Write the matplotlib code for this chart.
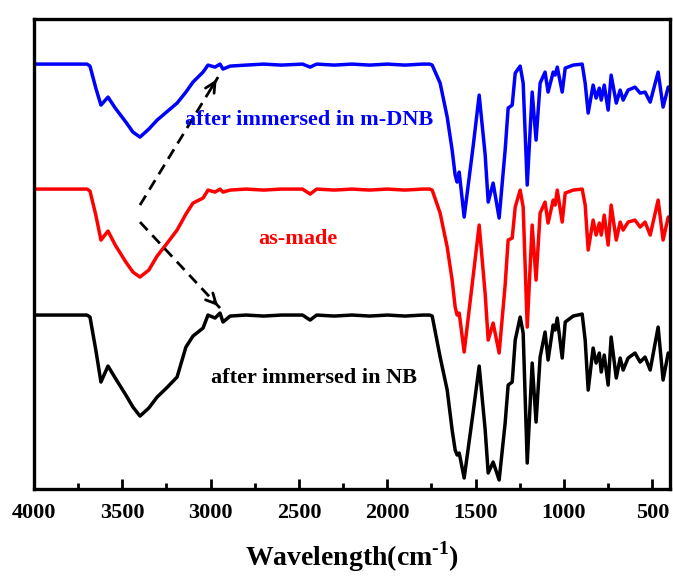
import numpy as np
import matplotlib
matplotlib.use("Agg")
import matplotlib.pyplot as plt

# ---------------------------------------------
# data (transmittance, arbitrary units)
# ---------------------------------------------
wavenumber = [
    4000, 3700, 3683, 3650, 3621, 3581, 3540, 3480, 3440, 3400,
    3350, 3303, 3250, 3190, 3140, 3100, 3043, 3015, 2975, 2947,
    2930, 2890, 2800, 2700, 2600, 2480, 2437, 2400, 2300, 2200,
    2100, 2000, 1900, 1800, 1760,
    1746, 1701, 1661, 1633, 1616, 1605, 1593, 1565, 1514, 1480,
    1446, 1429, 1401, 1367, 1333, 1316, 1293, 1276, 1248, 1231,
    1208, 1180, 1158, 1135, 1107, 1090, 1061, 1050, 1038, 1010,
    993, 948, 897, 880, 863, 835, 818, 800, 789, 772,
    750, 733, 704, 682, 665, 637, 598, 569, 541, 512,
    467, 439, 410, 400,
]

mdnb = [
    425, 425, 423, 401, 384, 392, 381, 367, 357, 352,
    360, 369, 377, 386, 397, 407, 417, 424, 422, 425,
    420, 423, 424, 425, 424, 425, 422, 425, 424, 425,
    424, 425, 424, 425, 425,
    424, 406, 372, 339, 314, 307, 317, 272, 343, 394,
    334, 287, 306, 271, 339, 381, 384, 416, 423, 406,
    304, 397, 349, 406, 417, 397, 417, 414, 422, 397,
    421, 424, 425, 406, 376, 404, 391, 401, 389, 404,
    379, 414, 386, 399, 389, 399, 402, 396, 397, 387,
    417, 382, 402, 402,
]

as_made = [
    300, 300, 298, 274, 249, 258, 244, 227, 217, 212,
    219, 233, 245, 259, 275, 286, 291, 299, 297, 300,
    297, 299, 300, 299, 300, 300, 295, 300, 299, 300,
    299, 300, 299, 300, 300,
    299, 276, 242, 209, 182, 174, 176, 137, 213, 264,
    195, 149, 166, 136, 204, 249, 251, 282, 299, 282,
    162, 264, 209, 276, 287, 266, 289, 284, 299, 267,
    296, 299, 300, 284, 239, 269, 254, 266, 254, 274,
    244, 284, 249, 267, 259, 267, 269, 262, 267, 254,
    289, 249, 272, 272,
]

nb = [
    174, 174, 172, 139, 107, 123, 111, 94, 82, 73,
    81, 92, 101, 112, 142, 153, 161, 174, 171, 176,
    167, 173, 174, 173, 174, 174, 169, 174, 173, 174,
    173, 174, 173, 174, 174,
    173, 132, 99, 59, 39, 34, 36, 11, 77, 123,
    59, 16, 27, 9, 66, 104, 107, 149, 172, 156,
    26, 126, 67, 132, 157, 129, 164, 159, 171, 131,
    167, 173, 175, 149, 99, 141, 126, 136, 117, 134,
    104, 152, 111, 131, 119, 131, 136, 127, 132, 119,
    162, 109, 136, 136,
]

# ---------------------------------------------
# style
# ---------------------------------------------
plt.rcParams["font.family"] = ["Liberation Serif", "DejaVu Serif"]
plt.rcParams["font.weight"] = "bold"
plt.rcParams["mathtext.fontset"] = "custom"
plt.rcParams["mathtext.rm"] = "Liberation Serif:bold"
plt.rcParams["mathtext.bf"] = "Liberation Serif:bold"

fig = plt.figure(figsize=(6.73, 5.79), dpi=100)
ax = fig.add_axes([0.0505, 0.1554, 0.945, 0.8116])

lw = 2.5
for y, c in [(mdnb, "#0000ff"), (as_made, "#ff0000"), (nb, "black")]:
    ax.plot(wavenumber, y, color=c, lw=lw,
            solid_joinstyle="round", solid_capstyle="round")

# labels on the curves
ax.text(2443, 369, "after immersed in m-DNB", color="#0000ff",
        fontsize=16, fontweight="bold", ha="center", va="center")
ax.text(2505, 250, "as-made", color="#ff0000",
        fontsize=16, fontweight="bold", ha="center", va="center")
ax.text(2414, 111, "after immersed in NB", color="black",
        fontsize=16, fontweight="bold", ha="center", va="center")

# dashed arrows
arrows = [((3400, 284), (2958, 412)), ((3400, 267), (2947, 181))]
for (x0, y0), (x1, y1) in arrows:
    ax.plot([x0, x1], [y0, y1], color="black", lw=2, dashes=(4, 2.5))
    ax.annotate("", xy=(x1, y1), xytext=(x0 + (x1 - x0) * 0.9, y0 + (y1 - y0) * 0.9),
                arrowprops=dict(arrowstyle="->", color="black", lw=2,
                                mutation_scale=18))

# axes
ax.set_xlim(4000, 400)
ax.set_ylim(0, 470)
ax.set_xticks([4000, 3500, 3000, 2500, 2000, 1500, 1000, 500])
ax.set_xticks(np.arange(3750, 400, -500), minor=True)
ax.set_yticks([])
ax.tick_params(axis="x", which="major", direction="in", length=7, width=2,
               labelsize=16, pad=10, top=False)
ax.tick_params(axis="x", which="minor", direction="in", length=4, width=2, top=False)
for lab in ax.get_xticklabels():
    lab.set_fontweight("bold")
for s in ax.spines.values():
    s.set_linewidth(2.4)

ax.set_xlabel(r"Wavelength(cm$^{\text{-}1}$)", fontsize=20, fontweight="bold",
              labelpad=12)

fig.savefig("out.png", dpi=100)
